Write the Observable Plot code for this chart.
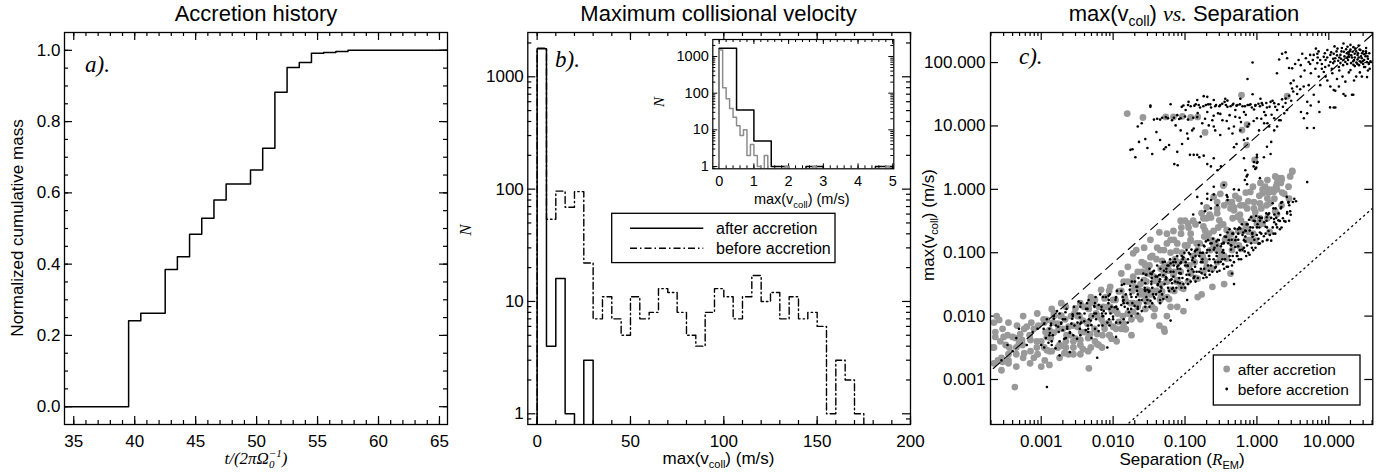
<!DOCTYPE html>
<html><head><meta charset="utf-8">
<script src="https://cdn.jsdelivr.net/npm/d3@7"></script>
<script src="https://cdn.jsdelivr.net/npm/@observablehq/plot@0.6"></script>
<style>
body{margin:0;background:#fff;}
#chart{position:relative;width:1385px;height:475px;overflow:hidden;background:#fff;font-family:"Liberation Sans",Arial,sans-serif;}
</style></head>
<body><div id="chart"></div>
<script>
// ---------- Panel a: accretion history ----------
const accTime = [34, 39.5, 40.5, 42.5, 43.5, 44.5, 45.5, 46.5, 47.5, 49.5, 50.5, 51.5, 52.5, 53.5, 54.5, 55.5, 56.5, 57.5, 66];
const accMass = [0, 0.241, 0.262, 0.385, 0.421, 0.484, 0.529, 0.58, 0.625, 0.664, 0.725, 0.882, 0.952, 0.966, 0.992, 0.994, 0.997, 1.0, 1.0];
const aXTicks = [35, 40, 45, 50, 55, 60, 65];
const aYTicks = [0, 0.2, 0.4, 0.6, 0.8, 1.0];

// ---------- Panel b: histograms (bin width 5 m/s) ----------
const velLo = [0,5,10,15,20,25,30,35,40,45,50,55,60,65,70,75,80,85,90,95,100,105,110,115,120,125,130,135,140,145,150,155,160,165,170];
const nAfter = [1780,4,16,1,0,3,0,0,0,0,0,0,0,0,0,0,0,0,0,0,0,0,0,0,0,0,0,0,0,0,0,0,0,0,0];
const nBefore = [1800,54,96,69,95,22,7,11,7,5,11,7,8,13,12,8,5,4,8,13,11,7,11,17,10,12,7,11,7,8,6,1,3,2,1];
const bXTicks = [0, 50, 100, 150, 200];
const bYTicks = [1, 10, 100, 1000];

// inset (after: bin 0.5 m/s, before: bin 0.1 m/s)
const insLoAfter = [0,0.5,1,1.5,2,2.5,3,3.5,4,4.5];
const insAfter = [1670,35,5,1,0,1,0,0,0,1];
const insLoBefore = [0,0.1,0.2,0.3,0.4,0.5,0.6,0.7,0.8,0.9,1,1.1,1.2,1.3,1.4,1.5,1.6,1.7,1.8,1.9,2,2.1,2.2,2.3,2.4,2.5,2.6,2.7,2.8,2.9,3,3.1,3.2,3.3,3.4,3.5,3.6,3.7,3.8,3.9,4,4.1,4.2,4.3,4.4,4.5,4.6,4.7,4.8,4.9];
const insBefore = [1500,140,70,38,22,13,7,10,2,4,2,1,0,2,0,0,0,0,0,1,0,0,0,0,0,0,0,1,0,0,0,0,0,0,0,0,0,0,0,0,0,0,0,0,0,0,0,0,1,0];
const iXTicks = [0,1,2,3,4,5];
const iYTicks = [1,10,100,1000];

// ---------- Panel c: max(vcoll) vs separation ----------
const cXTicks = [0.001, 0.01, 0.1, 1, 10];
const cYTicks = [0.001, 0.01, 0.1, 1, 10, 100];
const dashSep = [1.5e-4, 50], dashV = [1.04e-3, 345];
const dotSep = [0.01, 50], dotV = [1.24e-4, 0.62];

const afterPts = [
[2.4e-4,1.0e-2],[2.6e-4,8.7e-3],[2.3e-4,4.7e-3],[3.0e-4,4.7e-3],[2.2e-4,3.2e-3],[3.2e-4,3.5e-3],[2.5e-4,2.0e-3],[2.9e-4,1.9e-3],[3.5e-4,2.5e-3],[4.9e-4,3.7e-3],[5.4e-4,4.2e-3],[4.0e-4,4.7e-3],[5.1e-4,5.2e-3],[6.3e-4,6.8e-3],[7.1e-4,4.2e-3],[8.7e-4,3.2e-3],[5.8e-4,2.6e-3],[7.9e-4,2.2e-3],[1.0e-3,1.6e-3],[1.3e-3,1.7e-3],[1.2e-3,4.7e-3],[1.3e-3,6.0e-3],[1.7e-3,7.6e-3],[1.5e-3,1.0e-2],[1.9e-3,1.6e-2],[1.7e-3,3.2e-3],[2.1e-3,2.6e-3],[2.8e-3,3.2e-3],[3.5e-3,4.2e-3],[4.9e-3,3.2e-3],[4.6e-3,1.5e-3],[6.0e-3,5.2e-3],[7.4e-3,7.6e-3],[4.4e-3,7.6e-3],[2.6e-3,1.0e-2],[3.2e-3,6.8e-3],[3.9e-3,1.4e-2],[4.9e-3,2.0e-2],[6.8e-3,2.6e-2],[9.1e-3,2.9e-2],[8.3e-3,1.4e-2],[1.1e-2,1.2e-2],[1.0e-2,6.8e-3],[1.4e-2,7.6e-3],[1.7e-2,1.1e-2],[1.9e-2,1.6e-2],[2.4e-2,2.2e-2],[2.7e-2,3.7e-2],[3.0e-2,4.7e-2],[4.1e-2,3.7e-2],[1.3e-2,4.7e-2],[1.6e-2,6.0e-2],[1.9e-2,9.8e-2],[2.5e-2,7.1e-2],[3.3e-2,2.2e-2],[4.6e-2,2.0e-2],[3.7e-2,1.0e-2],[5.1e-2,6.3e-3],[6.3e-2,1.4e-2],[7.8e-2,3.7e-2],[6.3e-2,6.8e-2],[4.1e-2,0.12],[6.3e-2,0.16],[0.1,0.32],[8.9e-2,0.25],[0.12,0.16],
[3.1,1.9],[2.0,1.5],[2.2,1.4],[1.5,0.93],[1.7,0.91],[1.3,1.1],[0.81,0.91],[0.59,0.56],[0.66,0.56],[0.48,0.52],[0.35,1.2],[0.31,0.85],[0.25,0.76],[0.2,0.52],[0.17,0.42],[0.13,0.32],[0.11,0.29],[8.7e-2,0.32],[6.9e-2,0.22],[5.6e-2,0.2],[4.4e-2,0.21],[3.3e-2,0.16],[2.7e-2,0.12],[2.1e-2,0.11],[3.3e-2,8.5e-2],[5.1e-2,0.11],[7.8e-2,0.14],[0.12,0.2],[0.18,0.26],[0.23,0.36],[0.28,0.42],[0.43,0.5],[0.54,0.37],[0.91,0.5],[1.1,0.6],[1.4,0.72],[1.9,1.0],[1.0,0.29],[0.15,2.0e-2],[9.5e-2,1.2e-2],[7.8e-2,1.4e-2],[5.6e-2,1.0e-2],[0.17,2.2e-2],[0.24,2.9e-2],[0.35,3.2e-2],[0.43,4.7e-2],[0.2,6.0e-2],[0.31,8.5e-2],[0.12,4.7e-2],[8.7e-2,3.2e-2],[6.3e-2,2.6e-2],[4.6e-2,3.2e-2],[3.7e-2,4.2e-2],[3.0e-2,2.6e-2],[2.4e-2,3.2e-2],[1.9e-2,4.2e-2],[2.7e-2,6.8e-2],[5.1e-2,6.0e-2],[0.15,0.1],[0.25,0.13],[0.4,0.18],[0.63,0.22],[0.79,0.16],
[1.57e-2,15.7],[2.6e-2,13.6],[5.4e-2,13.9],[6.9e-2,13.9],[9.2e-2,14.2],[0.12,13.6],[0.15,13.9],[0.19,7.9],[0.61,30.7],[0.62,8.6],[0.73,10.5],[0.72,5.0],[0.93,2.9],[2.64,29.5],[3.1,1.95],[1.9,1.5],[2.2,1.5],[0.34,1.15],[1.2,1.0],[1.5,0.99],[1.7,0.99],
[2.5e-3,5.0e-3],[2.0e-3,6.3e-3],[3.2e-3,1.0e-2],[4.0e-3,5.6e-3],[5.0e-3,1.0e-2],[6.3e-3,1.4e-2],[7.9e-3,2.0e-2],[1.0e-2,1.8e-2],[1.3e-2,2.5e-2],[1.6e-2,3.5e-2],[2.0e-2,2.8e-2],[2.5e-2,5.0e-2],[3.2e-2,6.3e-2],[4.0e-2,7.9e-2],[5.0e-2,4.5e-2],[6.3e-2,0.1],[7.9e-2,7.1e-2],[0.1,0.13],[0.13,8.9e-2],[0.16,0.14],[0.2,0.18],[0.25,0.22],[0.32,0.28],[1.3e-3,2.8e-3],[1.0e-3,4.0e-3],[7.9e-4,6.3e-3],[1.1e-3,7.9e-3],[4.5e-4,3.2e-3],[3.5e-4,1.8e-3],[2.2e-3,4.0e-3],[3.5e-3,2.5e-3],[6.3e-3,3.5e-3],[8.9e-3,5.0e-3],[1.3e-2,6.3e-3],[1.6e-2,1.1e-2],[2.2e-2,1.4e-2],[2.8e-2,1.8e-2],[4.0e-2,2.5e-2],[5.6e-2,3.5e-2],[7.1e-2,5.0e-2],[0.11,6.3e-2],[0.18,7.9e-2],[0.28,0.11],[0.45,0.14],[0.71,0.25],[1.1,0.35],[0.5,0.79],[0.4,0.63],[0.28,0.63],[0.2,0.35],[4.3e-4,7.6e-4],[4.4e-2,7.1e-3],[5.2e-2,5.7e-3],
[2.2e-4,1.8e-3],[2.1e-4,3.2e-3],[2.3e-4,5.6e-3],[2.2e-4,7.9e-3],[2.8e-4,2.2e-3],[2.7e-4,4.0e-3],[2.9e-4,6.3e-3],[2.8e-4,1.4e-3],[3.5e-4,2.0e-3],[3.4e-4,5.0e-3],[3.6e-4,3.2e-3],[3.5e-4,7.9e-3],[4.5e-4,2.5e-3],[4.4e-4,4.5e-3],[4.6e-4,7.1e-3],[4.5e-4,1.6e-3],[5.6e-4,2.2e-3],[5.5e-4,3.5e-3],[5.8e-4,6.3e-3],[5.6e-4,1.0e-2],[7.1e-4,2.8e-3],[6.9e-4,5.0e-3],[7.3e-4,7.9e-3],[7.0e-4,1.8e-3],[8.9e-4,2.5e-3],[8.7e-4,4.0e-3],[9.1e-4,7.1e-3],[8.8e-4,1.1e-2],[1.1e-3,3.2e-3],[1.15e-3,5.6e-3],[1.08e-3,8.9e-3],[1.12e-3,2.0e-3],[1.4e-3,2.8e-3],[1.36e-3,4.5e-3],[1.45e-3,7.9e-3],[1.4e-3,1.3e-2],[1.8e-3,3.5e-3],[1.75e-3,6.3e-3],[1.85e-3,1.0e-2],[1.8e-3,2.2e-3],[2.2e-3,3.2e-3],[2.25e-3,5.0e-3],[2.15e-3,8.9e-3],[2.2e-3,1.4e-2],[2.8e-3,4.0e-3],[2.75e-3,7.1e-3],[2.9e-3,1.1e-2],[2.8e-3,2.5e-3],[3.5e-3,3.5e-3],[3.6e-3,5.6e-3],[3.4e-3,1.0e-2],[3.5e-3,1.6e-2],[4.5e-3,4.5e-3],[4.4e-3,7.9e-3],[4.6e-3,1.3e-2],[4.5e-3,2.8e-3],[5.6e-3,4.0e-3],[5.5e-3,6.3e-3],[5.8e-3,1.1e-2],[5.6e-3,1.8e-2],[7.1e-3,5.0e-3],[6.9e-3,8.9e-3],[7.3e-3,1.4e-2],[7.0e-3,3.2e-3],[8.9e-3,5.0e-3],[8.7e-3,7.9e-3],[9.1e-3,1.4e-2],[8.8e-3,2.5e-2],[1.1e-2,6.3e-3],[1.15e-2,1.1e-2],[1.08e-2,1.8e-2],[1.12e-2,4.0e-3],[1.4e-2,6.3e-3],[1.36e-2,1.0e-2],[1.45e-2,2.0e-2],[1.4e-2,3.5e-2],[1.8e-2,8.9e-3],[1.75e-2,1.6e-2],[1.85e-2,2.5e-2],[1.8e-2,5.0e-3],[2.2e-2,1.0e-2],[2.25e-2,1.6e-2],[2.15e-2,2.8e-2],[2.2e-2,5.0e-2],[2.8e-2,1.3e-2],[2.75e-2,2.2e-2],[2.9e-2,3.5e-2],[2.8e-2,6.3e-2],[3.5e-2,1.4e-2],[3.6e-2,2.5e-2],[3.4e-2,4.5e-2],[3.5e-2,8.9e-2],[4.5e-2,1.8e-2],[4.4e-2,3.2e-2],[4.6e-2,5.6e-2],[4.5e-2,0.11],[5.6e-2,2.0e-2],[5.5e-2,3.5e-2],[5.8e-2,6.3e-2],[5.6e-2,0.14],[7.1e-2,2.5e-2],[6.9e-2,4.5e-2],[7.3e-2,7.9e-2],[7.0e-2,0.16],[8.9e-2,2.8e-2],[8.7e-2,5.0e-2],[9.1e-2,0.1],[8.8e-2,0.2],[0.11,3.5e-2],[0.115,6.3e-2],[0.108,0.13],[0.112,0.25],[0.14,4.0e-2],[0.136,7.1e-2],[0.145,0.14],[0.14,0.28],[0.18,5.0e-2],[0.175,8.9e-2],[0.185,0.18],[0.18,0.35],[0.22,5.6e-2],[0.225,0.11],[0.215,0.2],[0.22,0.4],[0.28,7.1e-2],[0.275,0.13],[0.29,0.25],[0.28,0.5],[0.35,8.9e-2],[0.36,0.16],[0.34,0.28],[0.35,0.56],[0.45,0.11],[0.44,0.2],[0.46,0.35],[0.45,0.63],[0.56,0.13],[0.55,0.22],[0.58,0.4],[0.56,0.71],[0.71,0.16],[0.69,0.28],[0.73,0.5],[0.7,0.89],[0.89,0.2],[0.87,0.35],[0.91,0.63],[0.88,1.1],[1.1,0.28],[1.15,0.5],[1.08,0.79],[1.12,1.26],[1.4,0.35],[1.36,0.56],[1.45,0.89],[1.4,1.4],[1.8,0.45],[1.75,0.71],[1.85,1.1],[1.8,1.6],[2.2,0.56],[2.25,0.89],[2.15,1.26],[2.8,0.71],[2.75,1.1],[2.9,1.6],
[1.2e-3,8.7e-3],[1.2e-3,2.9e-3],[1.5e-3,5.5e-3],[1.5e-3,1.12e-2],[1.9e-3,1.02e-2],[1.9e-3,3.4e-3],[2.4e-3,6.8e-3],[2.4e-3,2.5e-3],[3.0e-3,1.32e-2],[3.0e-3,4.4e-3],[3.8e-3,8.5e-3],[3.8e-3,3.0e-3],[4.8e-3,1.6e-2],[4.8e-3,5.2e-3],[6.0e-3,1.02e-2],[6.0e-3,3.6e-3],[7.6e-3,1.9e-2],[7.6e-3,6.3e-3],[9.5e-3,1.23e-2],[9.5e-3,4.4e-3],[1.2e-2,2.45e-2],[1.2e-2,8.1e-3],[1.5e-2,1.74e-2],[1.5e-2,6.2e-3],[1.9e-2,3.5e-2],[1.9e-2,1.17e-2],[2.4e-2,2.5e-2],[2.4e-2,8.9e-3],[3.0e-2,5.1e-2],[3.0e-2,1.7e-2],[3.8e-2,3.6e-2],[3.8e-2,1.29e-2],[4.8e-2,7.4e-2],[4.8e-2,2.45e-2],[6.0e-2,5.2e-2],[6.0e-2,1.86e-2],[7.6e-2,0.107],[7.6e-2,3.5e-2],[9.5e-2,7.6e-2],[9.5e-2,2.7e-2],[0.12,0.155],[0.12,5.1e-2],[0.15,0.11],[0.15,3.9e-2],[0.19,0.224],[0.19,7.4e-2],[0.24,0.158],[0.24,5.6e-2],[0.3,0.324],[0.3,0.107],[0.38,0.229],[0.38,8.1e-2],[0.48,0.468],[0.48,0.155],[0.6,0.324],[0.6,0.115],[0.76,0.646],[0.76,0.214],[0.95,0.437],[0.95,0.155],[1.2,0.871],[1.2,0.288],[1.5,0.603],[1.5,0.214],[1.9,1.23],[1.9,0.407],[2.4,0.851]
];

const beforePts = [
[2.8e-4,2.0e-3],[3.4e-4,3.5e-3],[4.0e-4,2.8e-3],[4.9e-4,6.3e-3],[6.3e-4,3.5e-3],[7.6e-4,5.6e-3],[8.9e-4,6.3e-3],[1.1e-3,7.6e-3],[1.3e-3,6.3e-3],[1.5e-3,9.1e-3],[1.9e-3,7.6e-3],[2.3e-3,6.8e-3],[2.7e-3,9.1e-3],[3.2e-3,1.1e-2],[3.5e-3,7.6e-3],[4.2e-3,1.3e-2],[4.9e-3,8.5e-3],[5.8e-3,1.1e-2],[6.3e-3,1.5e-2],[7.4e-3,1.2e-2],[8.7e-3,1.8e-2],[9.5e-3,1.4e-2],[1.1e-2,2.0e-2],[1.3e-2,1.5e-2],[1.5e-2,2.2e-2],[1.7e-2,2.6e-2],[2.1e-2,2.9e-2],[2.5e-2,3.7e-2],[3.0e-2,2.6e-2],[3.3e-2,4.7e-2],[4.1e-2,4.2e-2],[5.1e-2,5.2e-2],[6.3e-2,6.8e-2],[7.8e-2,6.0e-2],[9.5e-2,8.5e-2],[8.7e-2,4.7e-2],[6.3e-2,3.7e-2],[4.6e-2,2.9e-2],[3.7e-2,2.0e-2],[6.3e-2,8.5e-3],[2.5e-3,2.7e-3],[1.8e-3,2.4e-3],[6.0e-3,2.2e-3],[8.3e-3,3.2e-3],[1.2e-3,7.6e-4],[1.1e-2,4.7e-3],[1.6e-2,7.9e-3],[2.2e-2,1.1e-2],[3.2e-2,1.4e-2],[4.5e-2,1.6e-2],
[1.3e-3,5.0e-3],[1.6e-3,7.1e-3],[2.0e-3,8.9e-3],[2.5e-3,5.6e-3],[3.2e-3,7.9e-3],[4.0e-3,1.1e-2],[4.5e-3,6.3e-3],[5.6e-3,1.6e-2],[7.1e-3,1.0e-2],[8.9e-3,1.3e-2],[1.1e-2,1.4e-2],[1.3e-2,2.5e-2],[1.4e-2,1.8e-2],[1.8e-2,2.0e-2],[2.0e-2,3.5e-2],[2.2e-2,2.2e-2],[2.5e-2,1.8e-2],[2.8e-2,2.5e-2],[6.3e-3,7.1e-3],[1.0e-2,8.9e-3],[1.6e-2,1.3e-2],[3.5e-3,1.4e-2],[7.9e-3,2.0e-2],[4.5e-4,4.5e-3],[1.0e-3,3.5e-3],[1.4e-3,4.0e-3],[5.0e-3,4.5e-3],
[0.030,0.018],[0.032,0.025],[0.034,0.035],[0.029,0.045],[0.035,0.028],[0.032,0.056],[0.028,0.033],
[0.038,0.019],[0.042,0.032],[0.039,0.042],[0.044,0.024],[0.037,0.052],[0.041,0.063],[0.045,0.038],
[0.048,0.022],[0.052,0.032],[0.050,0.044],[0.055,0.056],[0.047,0.028],[0.054,0.038],[0.049,0.071],
[0.060,0.025],[0.066,0.033],[0.063,0.050],[0.069,0.042],[0.059,0.063],[0.068,0.028],[0.062,0.079],[0.065,0.038],
[0.076,0.028],[0.083,0.040],[0.079,0.056],[0.087,0.047],[0.074,0.071],[0.085,0.033],[0.078,0.089],[0.081,0.063],
[0.095,0.032],[0.105,0.045],[0.10,0.063],[0.11,0.052],[0.093,0.079],[0.107,0.038],[0.098,0.10],[0.102,0.071],
[0.12,0.035],[0.132,0.050],[0.126,0.076],[0.138,0.060],[0.117,0.095],[0.135,0.042],[0.123,0.112],[0.129,0.083],
[0.151,0.040],[0.166,0.056],[0.158,0.089],[0.174,0.071],[0.148,0.112],[0.170,0.048],[0.155,0.132],[0.162,0.10],
[0.19,0.045],[0.209,0.063],[0.20,0.10],[0.219,0.079],[0.186,0.126],[0.214,0.052],[0.195,0.151],[0.204,0.11],
[0.24,0.050],[0.263,0.071],[0.251,0.112],[0.275,0.089],[0.234,0.141],[0.269,0.060],[0.245,0.166],[0.257,0.12],
[0.302,0.052],[0.331,0.079],[0.316,0.126],[0.347,0.10],[0.295,0.158],[0.339,0.066],[0.309,0.19],[0.324,0.138],
[0.38,0.060],[0.417,0.089],[0.398,0.141],[0.437,0.112],[0.372,0.178],[0.427,0.076],[0.389,0.209],[0.407,0.158],
[0.479,0.071],[0.525,0.10],[0.501,0.158],[0.55,0.126],[0.468,0.20],[0.537,0.089],[0.49,0.24],[0.513,0.178],
[0.603,0.079],[0.661,0.12],[0.631,0.19],[0.692,0.151],[0.589,0.24],[0.676,0.105],[0.617,0.282],[0.646,0.209],
[0.759,0.10],[0.832,0.141],[0.794,0.224],[0.871,0.178],[0.741,0.282],[0.851,0.12],[0.776,0.331],[0.813,0.251],
[0.955,0.12],[1.05,0.166],[1.0,0.251],[1.10,0.209],[0.933,0.316],[1.07,0.141],[0.977,0.38],[1.02,0.282],
[1.20,0.151],[1.32,0.20],[1.26,0.302],[1.38,0.251],[1.17,0.355],[1.35,0.417],
[1.51,0.19],[1.66,0.251],[1.58,0.355],[1.74,0.302],[1.48,0.417],[1.70,0.501],
[1.91,0.251],[2.09,0.316],[2.0,0.417],[2.19,0.525],[1.86,0.355],
[2.40,0.316],[2.63,0.417],[2.82,0.562],[3.16,0.631],[3.31,0.708],[2.95,0.398],
[1.1e-3,3.2e-3],[1.16e-3,4.5e-3],[1.08e-3,6.3e-3],[1.2e-3,8.9e-3],[1.4e-3,3.5e-3],[1.45e-3,5.0e-3],[1.36e-3,7.1e-3],[1.5e-3,1.0e-2],[1.8e-3,4.0e-3],[1.75e-3,5.6e-3],[1.9e-3,7.9e-3],[1.8e-3,1.1e-2],[2.2e-3,4.5e-3],[2.3e-3,6.3e-3],[2.15e-3,8.9e-3],[2.25e-3,1.3e-2],[2.8e-3,5.0e-3],[2.9e-3,7.1e-3],[2.75e-3,1.0e-2],[2.85e-3,1.4e-2],[3.5e-3,5.0e-3],[3.6e-3,7.9e-3],[3.4e-3,1.1e-2],[3.55e-3,1.6e-2],[3.45e-3,6.3e-3],[4.5e-3,5.6e-3],[4.6e-3,8.9e-3],[4.4e-3,1.3e-2],[4.55e-3,1.8e-2],[4.45e-3,7.1e-3],[5.6e-3,6.3e-3],[5.8e-3,8.9e-3],[5.5e-3,1.4e-2],[5.7e-3,2.0e-2],[5.5e-3,1.1e-2],[7.1e-3,7.1e-3],[7.3e-3,1.0e-2],[6.9e-3,1.4e-2],[7.2e-3,2.0e-2],[7.0e-3,1.1e-2],[8.9e-3,7.1e-3],[9.2e-3,1.1e-2],[8.6e-3,1.6e-2],[9.0e-3,2.2e-2],[8.8e-3,8.9e-3],[1.1e-2,7.9e-3],[1.15e-2,1.3e-2],[1.08e-2,1.8e-2],[1.13e-2,2.5e-2],[1.1e-2,1.4e-2],[1.4e-2,8.9e-3],[1.45e-2,1.4e-2],[1.36e-2,2.0e-2],[1.42e-2,3.2e-2],[1.4e-2,1.6e-2],[1.8e-2,1.0e-2],[1.85e-2,1.6e-2],[1.75e-2,2.2e-2],[1.82e-2,3.5e-2],[1.78e-2,1.3e-2],[2.2e-2,1.3e-2],[2.3e-2,1.8e-2],[2.15e-2,2.5e-2],[2.25e-2,4.0e-2],[2.2e-2,1.4e-2],[2.8e-2,1.4e-2],[2.9e-2,2.0e-2],[2.75e-2,2.8e-2],[2.85e-2,4.5e-2],[2.8e-2,1.6e-2],[3.5e-2,1.6e-2],[3.6e-2,2.2e-2],[3.4e-2,3.2e-2],[3.55e-2,5.0e-2],[3.45e-2,4.0e-2],[4.5e-2,1.8e-2],[4.6e-2,2.5e-2],[4.4e-2,3.5e-2],[4.55e-2,5.6e-2],[4.45e-2,4.5e-2],[5.6e-2,2.0e-2],[5.8e-2,2.8e-2],[5.5e-2,4.0e-2],[5.7e-2,6.3e-2],[5.5e-2,5.0e-2],[7.1e-2,2.5e-2],[7.3e-2,3.5e-2],[6.9e-2,5.0e-2],[7.2e-2,7.9e-2],[7.0e-2,6.3e-2],[8.9e-2,2.8e-2],[9.2e-2,4.0e-2],[8.6e-2,5.6e-2],[9.0e-2,8.9e-2],[8.8e-2,7.1e-2],[0.11,3.2e-2],[0.115,4.5e-2],[0.108,6.3e-2],[0.113,0.1],[0.11,7.9e-2],[0.14,3.5e-2],[0.145,5.0e-2],[0.136,7.1e-2],[0.142,0.11],[0.14,8.9e-2],[0.18,4.0e-2],[0.185,5.6e-2],[0.175,7.9e-2],[0.182,0.13],[0.178,0.1],[0.22,4.5e-2],[0.23,6.3e-2],[0.215,8.9e-2],[0.225,0.14],[0.22,0.11],[0.28,5.0e-2],[0.29,7.1e-2],[0.275,0.1],[0.285,0.16],[0.28,0.13],[0.35,5.6e-2],[0.36,7.9e-2],[0.34,0.11],[0.355,0.18],[0.345,0.14],[0.45,6.3e-2],[0.46,8.9e-2],[0.44,0.13],[0.455,0.2],[0.445,0.16],[0.56,7.9e-2],[0.58,0.11],[0.55,0.16],[0.57,0.25],[0.55,0.2],[0.71,8.9e-2],[0.73,0.13],[0.69,0.18],[0.72,0.28],[0.7,0.22],[0.89,0.11],[0.92,0.16],[0.86,0.2],[0.9,0.32],[0.88,0.25],[1.1,0.14],[1.15,0.2],[1.08,0.25],[1.13,0.35],[1.1,0.32],[1.4,0.16],[1.45,0.22],[1.36,0.32],[1.42,0.4],[1.8,0.2],[1.85,0.28],[1.75,0.4],[1.82,0.5],[2.2,0.25],[2.3,0.35],[2.15,0.5],[2.25,0.63],[2.8,0.32],[2.9,0.45],[2.75,0.63],
[1.26e-3,3.8e-3],[1.37e-3,7.6e-3],[1.32e-3,5.4e-3],[1.58e-3,3.1e-3],[1.72e-3,6.8e-3],[1.66e-3,1.2e-2],[1.99e-3,6.0e-3],[2.17e-3,1.15e-2],[2.09e-3,4.4e-3],[2.5e-3,5.4e-3],[2.73e-3,1.07e-2],[2.63e-3,7.6e-3],[3.15e-3,4.4e-3],[3.44e-3,9.5e-3],[3.31e-3,1.7e-2],[3.96e-3,8.3e-3],[4.33e-3,1.6e-2],[4.17e-3,6.0e-3],[4.99e-3,7.2e-3],[5.46e-3,1.45e-2],[5.25e-3,1.0e-2],[6.28e-3,5.8e-3],[6.87e-3,1.26e-2],[6.61e-3,2.2e-2],[7.9e-3,1.1e-2],[8.65e-3,2.1e-2],[8.32e-3,7.9e-3],[9.98e-3,9.8e-3],[1.09e-2,1.95e-2],[1.05e-2,1.38e-2],[1.25e-2,7.9e-3],[1.37e-2,1.74e-2],[1.32e-2,3.1e-2],[1.58e-2,1.6e-2],[1.73e-2,3.0e-2],[1.66e-2,1.15e-2],[1.99e-2,1.45e-2],[2.17e-2,2.9e-2],[2.09e-2,2.0e-2],[2.5e-2,1.2e-2],[2.74e-2,2.6e-2],[2.63e-2,4.7e-2],[3.14e-2,2.4e-2],[3.44e-2,4.6e-2],[3.31e-2,1.74e-2],[3.96e-2,2.2e-2],[4.34e-2,4.4e-2],[4.17e-2,3.1e-2],[4.99e-2,1.86e-2],[5.46e-2,4.1e-2],[5.25e-2,7.2e-2],[6.28e-2,3.7e-2],[6.87e-2,7.1e-2],[6.61e-2,2.7e-2],[7.9e-2,3.4e-2],[8.65e-2,6.8e-2],[8.32e-2,4.8e-2],[9.98e-2,2.8e-2],[0.109,6.2e-2],[0.105,0.11],[0.125,5.5e-2],[0.137,0.105],[0.132,4.0e-2],[0.158,5.0e-2],[0.173,0.1],[0.166,7.1e-2],[0.199,4.1e-2],[0.217,8.9e-2],[0.209,0.158],[0.25,7.9e-2],[0.274,0.151],[0.263,5.8e-2],[0.314,7.2e-2],[0.344,0.145],[0.331,0.102],[0.396,6.0e-2],[0.434,0.132],[0.417,0.234],[0.499,0.123],[0.546,0.234],[0.525,8.9e-2],[0.628,0.112],[0.687,0.224],[0.661,0.158],[0.79,9.3e-2],[0.865,0.204],[0.832,0.363],[0.998,0.19],[1.09,0.363],[1.05,0.138],[1.25,0.182],[1.37,0.363],[1.32,0.257],[1.58,0.155],[1.73,0.339],[1.66,0.603],[1.99,0.324],[2.17,0.617],[2.09,0.234],[2.5,0.309],[2.74,0.617],[2.63,0.437],
[0.48,0.032],[0.45,0.047],[0.107,0.018],[1.38,0.158],[1.7,0.2],[2.6,0.76],[3.5,0.65],[0.148,0.76],[0.17,0.6],[0.19,0.45],[0.13,0.4],[0.16,0.3],[0.204,0.851],[0.251,1.10],[0.229,0.50],[0.282,0.562],[0.389,0.759],[0.204,0.708],[0.251,0.832],[0.347,1.17],
[1.0,3.5],[1.02,2.7],[0.98,2.2],[0.69,2.0],[0.72,1.6],[1.55,3.6],[5.0,1.3],[0.48,1.0],[0.56,0.98],[0.38,0.81],[0.39,0.68],[0.23,0.68],[0.91,2.7],[1.0,3.2],[0.9,2.3],[0.74,1.7],[0.73,1.2],[1.1,1.5],[1.25,3.2],[0.95,2.1],[1.0,2.6],[0.48,4.6],[0.52,5.2],[0.66,6.0],[0.74,6.3],[0.66,3.1],[0.68,1.4],[1.38,4.7],[1.58,5.6],[1.74,8.5],[1.91,9.8],[2.14,12.3],[4.1,16.6],[4.5,13.2],[5.0,15.8],[5.6,21],[6.2,9.3],[5.0,9.3],[7.4,16.6],[11.7,19.5],[16,32],[21,31],[12.3,36],[0.87,100],[0.74,55],[1.9,68],[17,30],[10.4,19.6],
[0.033,21],[0.041,13],[0.048,13.5],[0.054,13.8],[0.063,22],[0.066,12.3],[0.074,10.2],[0.078,14.8],[0.087,13.2],[0.095,21],[0.102,17.8],[0.11,12.6],[0.12,20.4],[0.126,8.5],[0.141,22],[0.148,13.8],[0.162,19.5],[0.174,11],[0.182,29.5],[0.195,21.4],[0.204,16.6],[0.224,21.9],[0.24,12.3],[0.251,9.8],[0.263,20.4],[0.288,15.8],[0.309,21.4],[0.331,12.3],[0.355,24],[0.363,26.9],[0.389,20],[0.417,14.8],[0.457,21.4],[0.479,9.8],[0.501,17.8],[0.537,21.4],[0.575,13.5],[0.631,20.4],[0.661,16.6],[0.741,21.4],[0.776,10.7],[0.813,21.9],[0.871,31.6],[0.912,18.2],[0.955,21.4],[1.0,13.2],[1.1,20.4],[1.17,22.9],[1.26,16.6],[1.32,14.8],[1.38,19.5],[1.55,24],[1.74,22.9],[1.91,17.8],[2.24,26.3],[2.4,15.8],[2.63,17.8],
[0.087,8.5],[0.107,7.6],[0.132,9.1],[0.166,6.8],[0.214,10.2],[0.263,8.5],[0.309,7.2],[0.407,9.1],[0.457,7.6],[0.589,8.5],[0.741,9.8],[1.07,8.5],[1.26,11],[1.48,9.8],[1.74,13.2],[2.04,12.3],[0.112,24],[0.148,25.7],[0.251,25.7],[0.589,26.9],[1.12,26.9],[0.204,28.8],[0.389,25.1],
[0.045,12.6],[0.058,13.2],[0.07,13.5],[0.083,12.9],[0.1,14.1],[0.13,13.5],[0.09,20],[0.11,21.4],[0.135,20.9],[0.155,21.4],[0.18,20.4],[0.21,21.9],[0.23,19.5],[0.27,21.4],[0.3,20.4],[0.33,22.4],[0.37,21.4],[0.43,20.4],[0.47,22.4],[0.52,20.9],[0.58,21.9],[0.68,20.4],[0.78,21.4],[0.85,19.5],[0.95,20.9],[1.05,22.4],[1.2,21.4],[1.35,23],[1.5,20],[1.65,25],[1.8,20],[2.0,22],[2.3,20],[0.15,16],[0.19,13],[0.25,14.5],[0.31,15.5],[0.38,12],[0.5,14],[0.6,11.5],[0.7,15],[0.9,12],[1.15,13],[1.4,11],[1.6,15],[2.5,23],[2.8,30],[3.2,35],[3.0,25],[3.6,42],[4.0,38],[0.025,11],[0.03,4.5],[0.04,8],[0.045,6],[0.035,3.6],
[0.022,9.8],[0.0186,4.3],[0.0204,3.2],[0.028,6.2],[0.054,4.6],[0.051,4.3],[0.078,3.9],[0.079,2.4],[0.117,3.5],[0.132,3.5],[0.148,3.5],[0.182,3.4],[0.229,2.3],[0.251,3.1],[0.282,2.0],[0.316,2.3],[0.0174,4.2],[0.0229,5.6],[0.033,20],[0.037,12.6],[0.06,5.0],[0.071,2.5],[0.158,3.2],[0.204,2.5],[0.091,5.2],[0.11,6.3],
[2.24,138],[2.51,145],[2.63,117],[2.04,112],[3.09,81],[3.24,52],[4.07,91],[4.27,138],[4.79,117],[5.25,102],[5.62,68],[6.17,132],[6.61,166],[6.92,98],[7.24,60],[7.59,44],[8.51,123],[8.91,85],[9.55,158],[10.5,102],[11.2,68],[11.7,138],[12.3,117],[13.2,166],[13.8,85],[14.5,132],[15.5,60],[16.2,148],[17,102],[18.2,178],[19.1,123],[20,76],[21.4,148],[22.4,110],[23.4,166],[25.1,132],[26.3,91],[27.5,158],[28.8,117],[30.9,85],[32.4,126],[33.9,102],[21.9,31],[11.7,37],[12.3,19.5],[6.17,31],[4.47,42],[3.63,32],[2.95,47],[7.24,24],[5.01,24],[4.07,60],[17,50],[9.55,52],[13.8,42],[22.4,52],[28.8,60],[8.51,71],[10.5,42],[5.25,44],[3.09,39],[2.51,27],[13.5,107],[15.8,91],[18.6,145],[20.4,98],[22.9,138],[25.1,112],[28.2,100],[17.4,162],[14.5,98],[11.5,98],[10.5,132],[7.59,110],[6.92,138],[5.5,132],
[14,120],[16,110],[19,135],[21,120],[24,150],[26,120],[29,140],[31,110],[18,95],[23,88],[27,105],[15,150],[20,160],[25,95],[30,150],[12.8,150],[9,110],[10,90],[8,95],[7,120],[33,140],[35,115],[36,95],[32,85],[34,59],
[9.5,120],[10.8,145],[12,105],[13,130],[14.8,115],[15.2,170],[16.5,125],[17.8,140],[18.5,110],[19.5,150],[20.5,130],[21.8,105],[22,175],[23,120],[24.2,100],[25.5,140],[26.8,160],[28,125],[29.5,105],[31,135],[32.8,150],[34.5,125],[36.5,140],[38,105],[37,80],[35,75],[27,70],[19,70],[14,75],[11,80],[9,60],[8,80],[6.5,80],[5.5,95],[4.6,75],[3.8,110],[3.4,95],[2.8,82],[13,55],[24,60],[30,95],[16,200],[20,190],[26,185],[33,170],[12,180],[18,118],[22,92],[11.5,115],[8.8,140],[7.2,150],[6,110]
];

// ---------- helpers ----------
function logMinor(lo, hi) {
  const t = [];
  for (let e = Math.floor(Math.log10(lo)) - 1; e <= Math.ceil(Math.log10(hi)); e++)
    for (let m = 2; m <= 9; m++) { const v = m * Math.pow(10, e); if (v > lo && v < hi) t.push(v); }
  return t;
}
function frameTicks({xMaj = [], xMin = [], yMaj = [], yMin = [], fw, fh, maj, min, sw = 1.2}) {
  const m = [];
  for (const [arr, L] of [[xMaj, maj], [xMin, min]]) {
    m.push(Plot.tickX(arr, {x: d => d, insetTop: fh - L, stroke: "black", strokeWidth: sw}));
    m.push(Plot.tickX(arr, {x: d => d, insetBottom: fh - L, stroke: "black", strokeWidth: sw}));
  }
  for (const [arr, L] of [[yMaj, maj], [yMin, min]]) {
    m.push(Plot.tickY(arr, {y: d => d, insetRight: fw - L, stroke: "black", strokeWidth: sw}));
    m.push(Plot.tickY(arr, {y: d => d, insetLeft: fw - L, stroke: "black", strokeWidth: sw}));
  }
  return m;
}
function stepPts(lo, w, n, floor) {
  const pts = [{x: lo[0], y: floor}];
  lo.forEach((x0, i) => { const y = n[i] > 0 ? n[i] : floor; pts.push({x: x0, y}, {x: x0 + w, y}); });
  pts.push({x: lo[lo.length - 1] + w, y: floor});
  return pts;
}
const FONT = '"Liberation Sans", Arial, Helvetica, sans-serif';
const chart = document.getElementById("chart");
function place(svg, left, top) {
  svg.style.position = "absolute"; svg.style.left = left + "px"; svg.style.top = top + "px";
  svg.style.maxWidth = "none"; svg.style.background = "transparent"; svg.style.overflow = "visible";
  chart.appendChild(svg);
}

// ---------- Panel a ----------
{
  const ml = 64, mr = 13, mt = 32, mb = 51, w = 460, h = 475;
  const fw = w - ml - mr, fh = h - mt - mb;
  const xMin = []; for (let v = 35; v <= 65; v++) xMin.push(v);
  const yMin = []; for (let k = 0; k <= 20; k++) yMin.push(k * 0.05);
  const svg = Plot.plot({
    width: w, height: h, marginLeft: ml, marginRight: mr, marginTop: mt, marginBottom: mb,
    x: {domain: [34.24, 65.66]}, y: {domain: [-0.05, 1.05]},
    style: {fontSize: "17px", fontFamily: FONT, background: "transparent", overflow: "visible", color: "black"},
    marks: [
      ...frameTicks({xMaj: aXTicks, xMin, yMaj: aYTicks, yMin, fw, fh, maj: 8, min: 4}),
      Plot.line(accTime.map((t, i) => ({t, m: accMass[i]})), {x: "t", y: "m", curve: "step-after", stroke: "black", strokeWidth: 1.5, clip: true}),
      Plot.frame({stroke: "black", strokeWidth: 1.3}),
      Plot.axisX(aXTicks, {tickSize: 0, tickPadding: 10, label: null, tickFormat: d => String(d), fill: "black"}),
      Plot.axisY(aYTicks, {tickSize: 0, tickPadding: 4, label: null, tickFormat: d => d.toFixed(1), fill: "black"})
    ]
  });
  place(svg, 0, 0);
}

// ---------- Panel b ----------
{
  const ml = 67.3, mr = 10, mt = 32, mb = 51, w = 460, h = 475;
  const fw = w - ml - mr, fh = h - mt - mb;
  const xMin = []; for (let v = 0; v <= 200; v += 10) xMin.push(v);
  const svg = Plot.plot({
    width: w, height: h, marginLeft: ml, marginRight: mr, marginTop: mt, marginBottom: mb,
    x: {domain: [-5, 200]}, y: {type: "log", domain: [0.803, 2479]},
    style: {fontSize: "17px", fontFamily: FONT, background: "transparent", overflow: "visible", color: "black"},
    marks: [
      ...frameTicks({xMaj: bXTicks, xMin, yMaj: bYTicks, yMin: logMinor(0.803, 2479), fw, fh, maj: 8, min: 4}),
      Plot.line(stepPts(velLo, 5, nBefore, 0.1), {x: "x", y: "y", stroke: "black", strokeWidth: 1.4, strokeDasharray: "7,3,1.5,3", clip: true}),
      Plot.line(stepPts(velLo, 5, nAfter, 0.1), {x: "x", y: "y", stroke: "black", strokeWidth: 1.5, clip: true}),
      Plot.frame({stroke: "black", strokeWidth: 1.3}),
      Plot.axisX(bXTicks, {tickSize: 0, tickPadding: 10, label: null, tickFormat: d => String(d), fill: "black"}),
      Plot.axisY(bYTicks, {tickSize: 0, tickPadding: 4, label: null, tickFormat: d => String(d), fill: "black"})
    ]
  });
  place(svg, 460, 0);
}

// ---------- Inset ----------
{
  const ml = 52.3, mr = 16.7, mt = 39, mb = 46.7, w = 250, h = 215;
  const fw = w - ml - mr, fh = h - mt - mb;
  const xMin = []; for (let k = 0; k <= 25; k++) xMin.push(k * 0.2);
  const svg = Plot.plot({
    width: w, height: h, marginLeft: ml, marginRight: mr, marginTop: mt, marginBottom: mb,
    x: {domain: [-0.184, 5.03]}, y: {type: "log", domain: [0.866, 2909]},
    style: {fontSize: "14.5px", fontFamily: FONT, background: "transparent", overflow: "visible", color: "black"},
    marks: [
      ...frameTicks({xMaj: iXTicks, xMin, yMaj: iYTicks, yMin: logMinor(0.866, 2909), fw, fh, maj: 5, min: 3, sw: 1}),
      Plot.line(stepPts(insLoAfter, 0.5, insAfter, 0.1), {x: "x", y: "y", stroke: "black", strokeWidth: 1.5, clip: true}),
      Plot.line(stepPts(insLoBefore, 0.1, insBefore, 0.1), {x: "x", y: "y", stroke: "#8c8c8c", strokeWidth: 1.5, clip: true}),
      Plot.frame({stroke: "black", strokeWidth: 1.2}),
      Plot.axisX(iXTicks, {tickSize: 0, tickPadding: 7, label: null, tickFormat: d => String(d), fill: "black"}),
      Plot.axisY(iYTicks, {tickSize: 0, tickPadding: 4, label: null, tickFormat: d => String(d), fill: "black"})
    ]
  });
  place(svg, 660, 0);
}

// ---------- Panel c ----------
{
  const ml = 70, mr = 12.7, mt = 32, mb = 51, w = 465, h = 475;
  const fw = w - ml - mr, fh = h - mt - mb;
  const xd = [1.97e-4, 40.9], yd = [1.95e-4, 298];
  const svg = Plot.plot({
    width: w, height: h, marginLeft: ml, marginRight: mr, marginTop: mt, marginBottom: mb,
    x: {type: "log", domain: xd}, y: {type: "log", domain: yd},
    style: {fontSize: "17px", fontFamily: FONT, background: "transparent", overflow: "visible", color: "black"},
    marks: [
      ...frameTicks({xMaj: cXTicks, xMin: logMinor(xd[0], xd[1]), yMaj: cYTicks, yMin: [], fw, fh, maj: 8, min: 4}),
      Plot.dot(afterPts, {x: d => d[0], y: d => d[1], r: 3.4, fill: "#999999", stroke: "none", clip: true}),
      Plot.dot(beforePts, {x: d => d[0], y: d => d[1], r: 1.3, fill: "black", stroke: "none", clip: true}),
      Plot.line(dashSep.map((s, i) => ({s, v: dashV[i]})), {x: "s", y: "v", stroke: "black", strokeWidth: 1.1, strokeDasharray: "9,6", clip: true}),
      Plot.line(dotSep.map((s, i) => ({s, v: dotV[i]})), {x: "s", y: "v", stroke: "black", strokeWidth: 1.3, strokeDasharray: "1.3,4", clip: true}),
      Plot.frame({stroke: "black", strokeWidth: 1.3}),
      Plot.axisX(cXTicks, {tickSize: 0, tickPadding: 10, label: null, tickFormat: d => d.toFixed(3), fill: "black"}),
      Plot.axisY(cYTicks, {tickSize: 0, tickPadding: 5, label: null, tickFormat: d => d.toFixed(3), fill: "black"})
    ]
  });
  place(svg, 920, 0);
}

// ---------- Annotation overlay (titles, labels, legends) ----------
const SERIF = '"Liberation Serif", "Times New Roman", serif';
const ov = `
<svg xmlns="http://www.w3.org/2000/svg" width="1385" height="475" style="position:absolute;left:0;top:0;overflow:visible" font-family='${FONT}' fill="black">
  <text x="256" y="21" text-anchor="middle" font-size="22">Accretion history</text>
  <text x="718.5" y="21" text-anchor="middle" font-size="22">Maximum collisional velocity</text>
  <text x="1184" y="21" text-anchor="middle" font-size="22">max(v<tspan font-size="14" dy="5">coll</tspan><tspan dy="-5">) </tspan><tspan font-family='${SERIF}' font-style="italic">vs.</tspan> Separation</text>

  <text x="85" y="72" font-family='${SERIF}' font-style="italic" font-size="23">a).</text>
  <text x="555" y="67" font-family='${SERIF}' font-style="italic" font-size="23">b).</text>
  <text x="1019" y="64" font-family='${SERIF}' font-style="italic" font-size="23">c).</text>

  <text transform="translate(23,228) rotate(-90)" text-anchor="middle" font-size="17">Normalized cumulative mass</text>
  <text x="256" y="464" text-anchor="middle" font-family='${SERIF}' font-style="italic" font-size="17">t/(2πΩ<tspan font-size="11" dy="4">0</tspan><tspan font-size="11" dx="-5.5" dy="-11">−1</tspan><tspan dy="7">)</tspan></text>

  <text transform="translate(471,230) rotate(-90)" text-anchor="middle" font-family='${SERIF}' font-style="italic" font-size="17">N</text>
  <text x="718.5" y="464" text-anchor="middle" font-size="17">max(v<tspan font-size="11" dy="4">coll</tspan><tspan dy="-4">) (m/s)</tspan></text>
  <text transform="translate(664,102) rotate(-90)" text-anchor="middle" font-family='${SERIF}' font-style="italic" font-size="15">N</text>
  <text x="801.7" y="204" text-anchor="middle" font-size="14.5">max(v<tspan font-size="9.5" dy="3.5">coll</tspan><tspan dy="-3.5">) (m/s)</tspan></text>

  <rect x="611.7" y="213.3" width="223.3" height="49.3" fill="white" stroke="black" stroke-width="1.3"/>
  <line x1="630" y1="228.3" x2="703.3" y2="228.3" stroke="black" stroke-width="1.5"/>
  <line x1="630" y1="248.3" x2="703.3" y2="248.3" stroke="black" stroke-width="1.4" stroke-dasharray="7,3,1.5,3"/>
  <text x="716" y="233.8" font-size="16">after accretion</text>
  <text x="716" y="253.8" font-size="16">before accretion</text>

  <text transform="translate(934,225) rotate(-90)" text-anchor="middle" font-size="17">max(v<tspan font-size="11" dy="4">coll</tspan><tspan dy="-4">) (m/s)</tspan></text>
  <text x="1182" y="465" text-anchor="middle" font-size="17">Separation (<tspan font-family='${SERIF}' font-style="italic">R</tspan><tspan font-size="11" dy="4">EM</tspan><tspan dy="-4">)</tspan></text>

  <rect x="1213.3" y="355" width="146.7" height="50" fill="white" stroke="black" stroke-width="1.3"/>
  <circle cx="1226.7" cy="369" r="3.4" fill="#999999"/>
  <circle cx="1226.7" cy="389" r="1.4" fill="black"/>
  <text x="1237.7" y="374.5" font-size="15.5">after accretion</text>
  <text x="1237.7" y="394.5" font-size="15.5">before accretion</text>
</svg>`;
chart.insertAdjacentHTML("beforeend", ov);
</script>
</body></html>
